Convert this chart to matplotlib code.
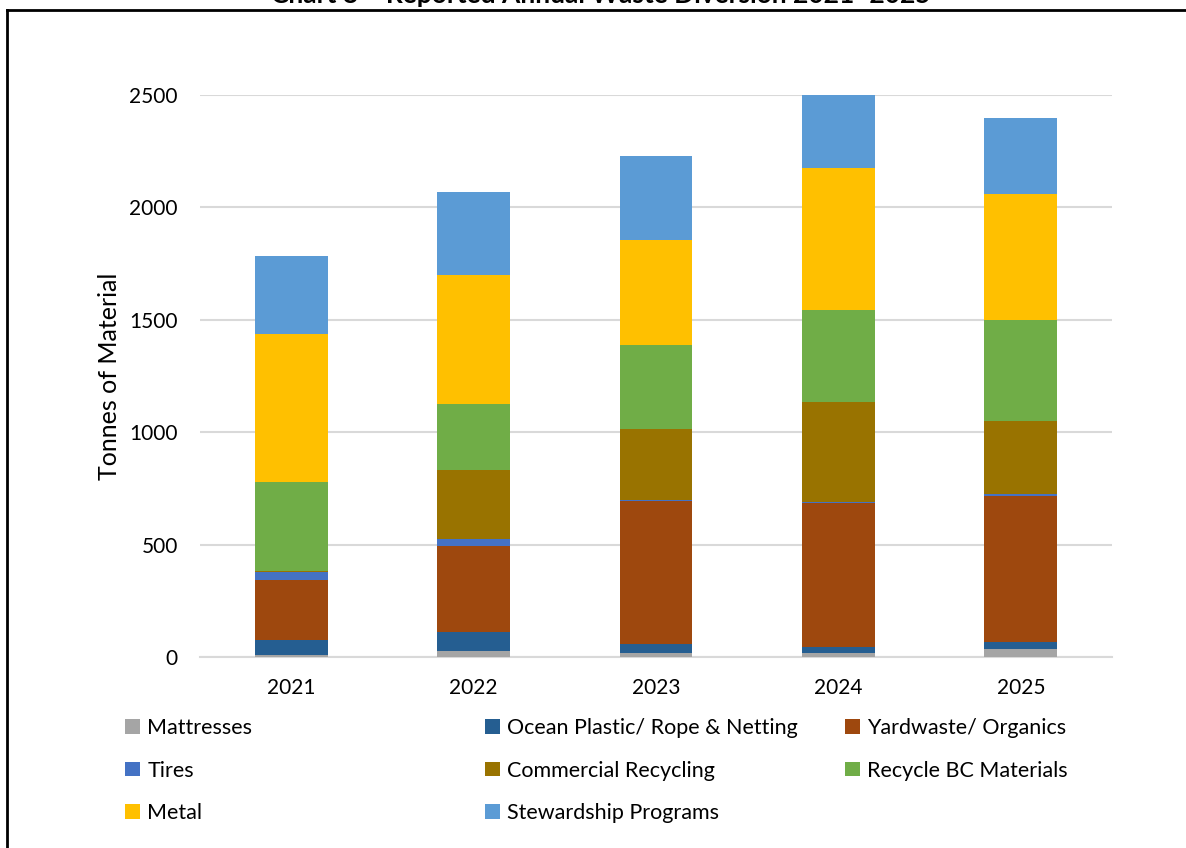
import matplotlib
matplotlib.use("Agg")
import matplotlib.pyplot as plt
from matplotlib.lines import Line2D
from matplotlib.patches import Patch
import numpy as np

plt.rcParams['font.family'] = ['Lato', 'DejaVu Sans']

years = ["2021", "2022", "2023", "2024", "2025"]
mattresses = [10, 27, 20, 18, 36]
ocean_plastic = [66, 86, 36, 25, 32]
yardwaste = [266, 382, 638, 643, 648]
tires = [35, 28, 4, 2, 8]
commercial = [5, 309, 316, 448, 326]
recycle_bc = [396, 293, 374, 409, 449]
metal = [659, 574, 467, 632, 560]
stewardship = [347, 369, 373, 325, 338]

series = [
    ("Mattresses", mattresses, "#A5A5A5"),
    ("Ocean Plastic/ Rope & Netting", ocean_plastic, "#255E91"),
    ("Yardwaste/ Organics", yardwaste, "#9E480E"),
    ("Tires", tires, "#4472C4"),
    ("Commercial Recycling", commercial, "#997300"),
    ("Recycle BC Materials", recycle_bc, "#70AD47"),
    ("Metal", metal, "#FFC000"),
    ("Stewardship Programs", stewardship, "#5B9BD5"),
]

W, H = 1186, 848
fig = plt.figure(figsize=(W / 100, H / 100), dpi=100)
ax = fig.add_axes([200 / W, 1 - 657 / H, 912 / W, 562 / H])

x = np.arange(len(years))
bottom = np.zeros(len(years))
for name, vals, color in series:
    ax.bar(x, vals, width=0.4, bottom=bottom, color=color, label=name, zorder=3)
    bottom += np.array(vals)

ax.set_xlim(-0.5, len(years) - 0.5)
ax.set_ylim(0, 2500)
ax.set_yticks([0, 500, 1000, 1500, 2000, 2500])
ax.set_xticks(x)
ax.set_xticklabels(years)
ax.yaxis.grid(True, color="#D9D9D9", linewidth=1.5, zorder=0)
ax.set_axisbelow(True)
for s in ("top", "right", "left"):
    ax.spines[s].set_visible(False)
ax.spines["bottom"].set_color("#D9D9D9")
ax.spines["bottom"].set_linewidth(1.5)
ax.tick_params(length=0, labelsize=15, colors="black")
ax.tick_params(axis="y", pad=16)
ax.tick_params(axis="x", pad=15)
ax.set_ylabel("Tonnes of Material", fontsize=18, labelpad=6)

# Legend laid out as three columns, filled row by row
cols = [[0, 3, 6], [1, 4, 7], [2, 5]]
col_x = [125, 485, 845]
for cx, idxs in zip(col_x, cols):
    handles = [Patch(facecolor=series[i][2]) for i in idxs]
    labels = [series[i][0] for i in idxs]
    fig.legend(handles, labels, loc="upper left",
               bbox_to_anchor=(cx / W, 1 - 718 / H),
               frameon=False, fontsize=15.5, borderpad=0, borderaxespad=0,
               handlelength=0.68, handleheight=0.68, handletextpad=0.35,
               labelspacing=1.05)

# Chart frame and title
fig.add_artist(Line2D([7 / W, 1], [1 - 10 / H, 1 - 10 / H], color="black", lw=2,
                      transform=fig.transFigure))
fig.add_artist(Line2D([7 / W, 7 / W], [1 - 10 / H, 0], color="black", lw=2,
                      transform=fig.transFigure))
fig.text(601 / W, 1 - 3 / H, "Chart 8 \u2013 Reported Annual Waste Diversion 2021\u20132025",
         ha="center", va="baseline", fontsize=19, fontweight="bold")

fig.savefig("out.png", dpi=100)
